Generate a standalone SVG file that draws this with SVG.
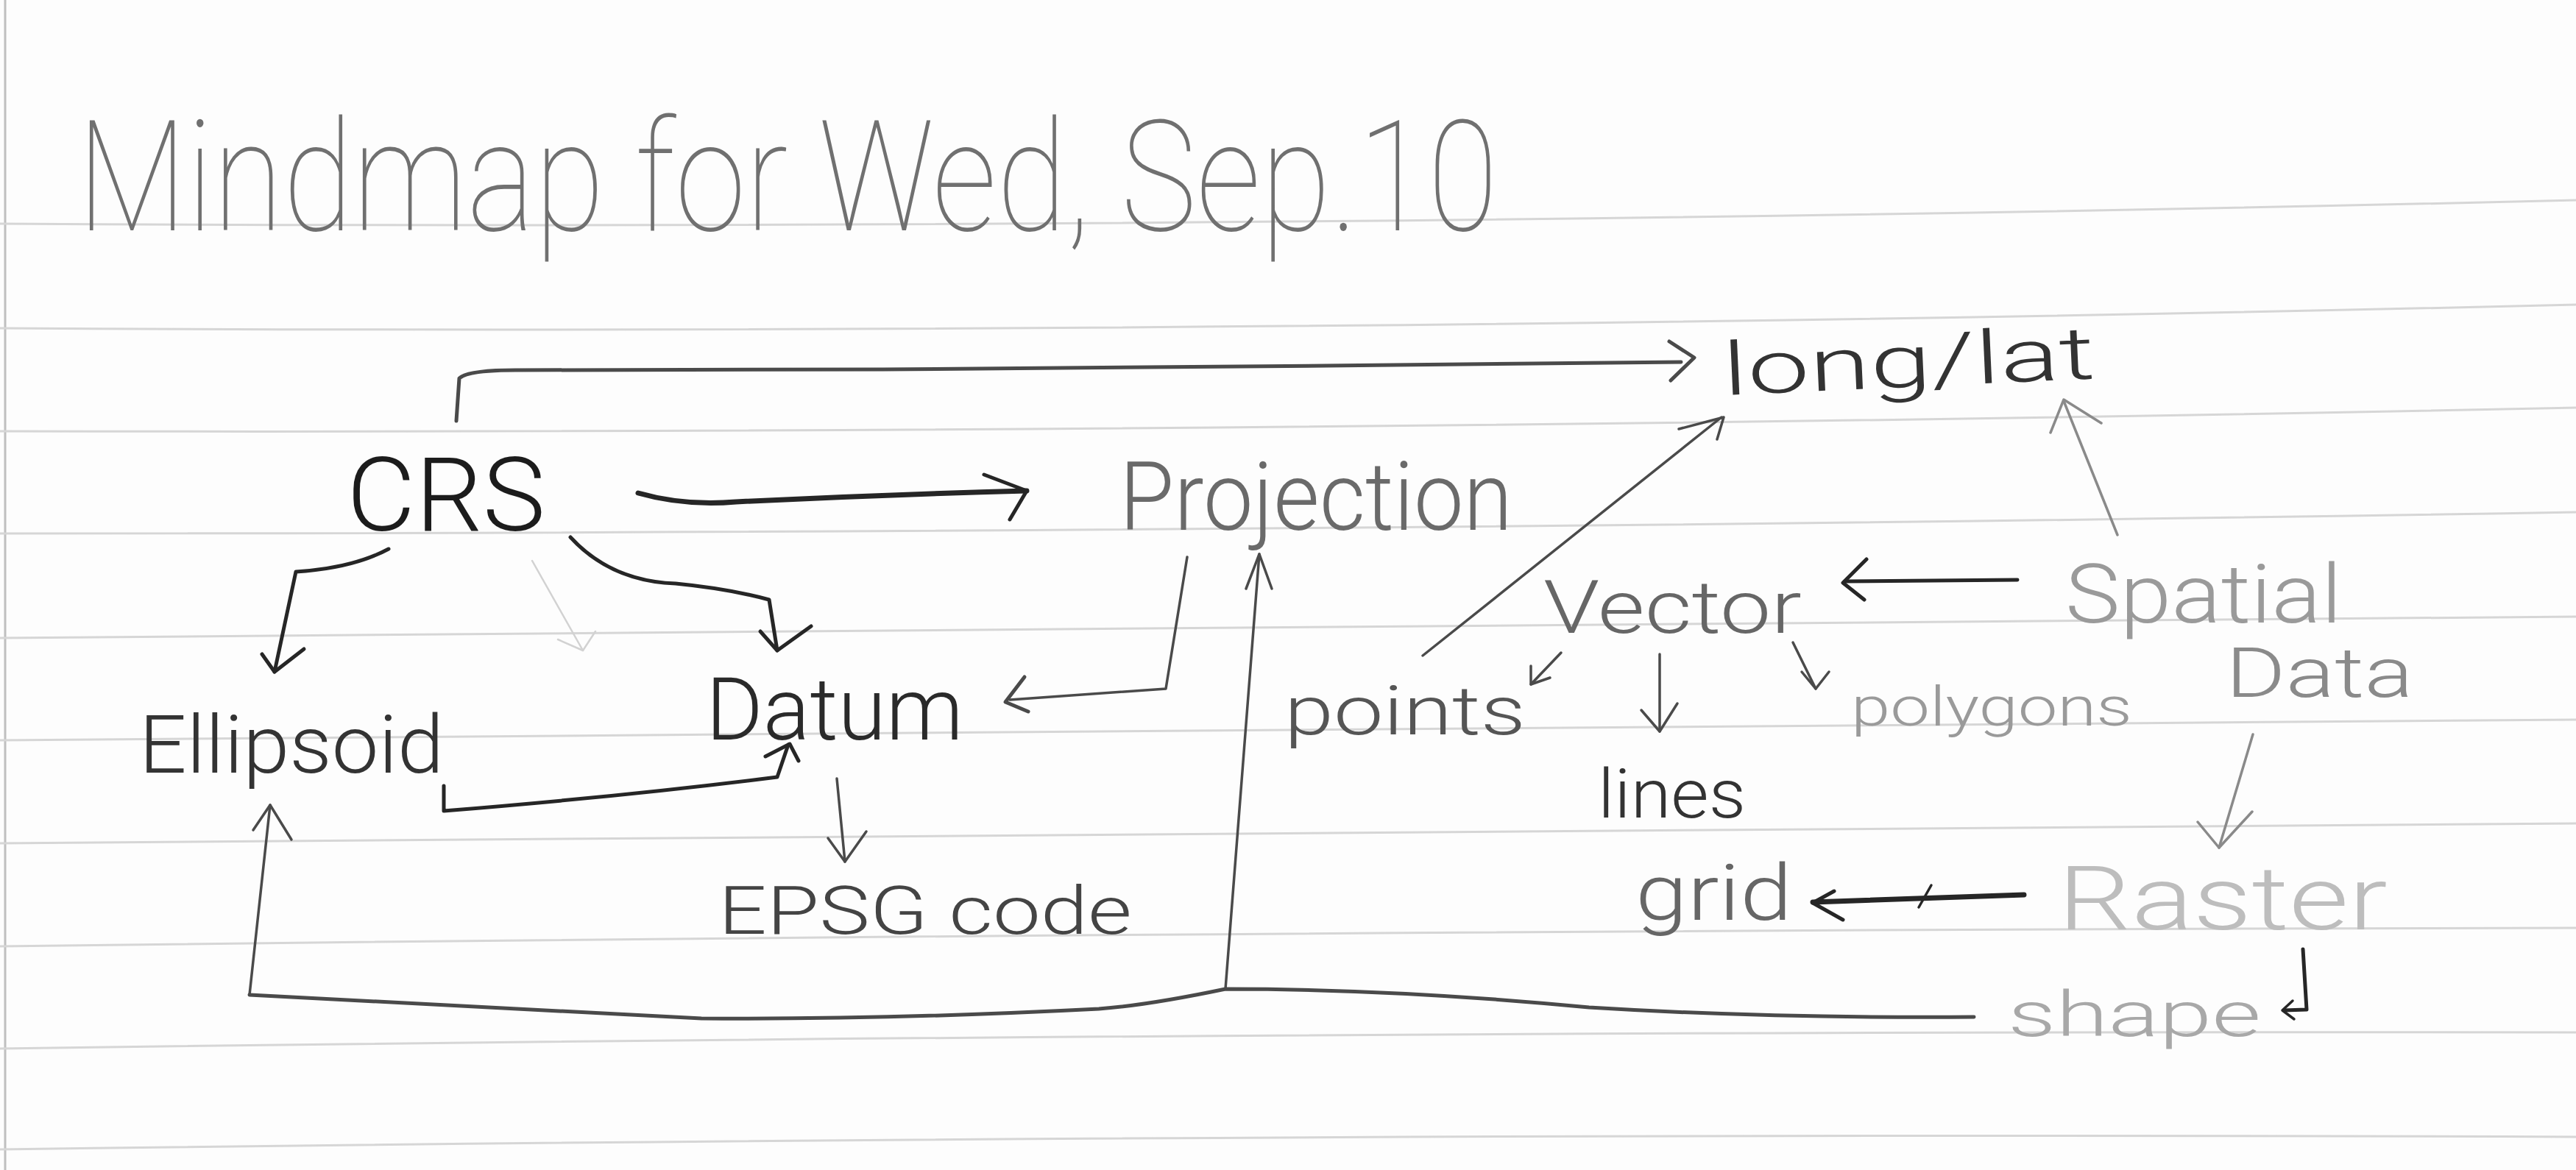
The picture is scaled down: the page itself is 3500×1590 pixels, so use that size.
<svg xmlns="http://www.w3.org/2000/svg" width="3500" height="1590" viewBox="0 0 3500 1590">
  <style>
    .rule { fill: none; stroke: #d6d6d6; stroke-width: 3; }
    .edge { fill: none; stroke: #bfbfbf; stroke-width: 3; }
    text { font-family: Roboto, "Liberation Sans", sans-serif; font-weight: 300; }
    .title { font-size: 210px; font-weight: 100; fill: #707070; }
    .ln { fill: none; stroke-linecap: round; stroke-linejoin: round; }
    .ink { stroke: #262626; }
    .lead { stroke: #4a4a4a; }
    .soft { stroke: #8a8a8a; }
    .faint { stroke: #d2d2d2; }
    .w2 { stroke-width: 2.5; }
    .w3 { stroke-width: 3.5; }
    .w5 { stroke-width: 5; }
    .w7 { stroke-width: 7; }
  </style>

  <!-- paper -->
  <rect x="0" y="0" width="3500" height="1590" fill="#fdfdfd"/>
  <g id="paper-rules">
    <path class="edge" d="M7,0 L7,1590"/>
    <path class="rule" d="M0,304 Q1775,314 3500,272"/>
    <path class="rule" d="M0,446 Q1775,456 3500,414"/>
    <path class="rule" d="M0,586 Q1775,590 3500,554"/>
    <path class="rule" d="M0,725 Q1775,725 3500,696"/>
    <path class="rule" d="M0,867 Q1775,860 3500,838"/>
    <path class="rule" d="M0,1006 Q1775,996 3500,978"/>
    <path class="rule" d="M0,1146 Q1775,1130 3500,1119"/>
    <path class="rule" d="M0,1286 Q1775,1264 3500,1261"/>
    <path class="rule" d="M0,1425 Q1775,1400 3500,1403"/>
    <path class="rule" d="M0,1562 Q1775,1538 3500,1545"/>
  </g>

  <!-- heading -->
  <g id="title">
    <text class="title" x="105" y="313" textLength="1930" lengthAdjust="spacingAndGlyphs">Mindmap for Wed, Sep.10</text>
  </g>

  <!-- connectors -->
  <g id="connectors">
    <!-- CRS up and over to long/lat -->
    <path class="ln lead w5" d="M620,572 L624,514 Q636,503 700,503 L1200,502 L1800,497 L2284,492"/>
    <path class="ln lead w5" d="M2268,464 L2302,486 L2270,517"/>
    <!-- CRS to Projection -->
    <path class="ln ink w7" d="M867,670 Q930,688 1000,682 Q1200,672 1395,667"/>
    <path class="ln ink w5" d="M1337,645 L1395,667 L1372,706"/>
    <!-- CRS to Ellipsoid -->
    <path class="ln ink w5" d="M528,746 Q480,772 402,777 L373,913"/>
    <path class="ln ink w5" d="M356,889 L373,913 L413,882"/>
    <!-- faint stroke below CRS -->
    <path class="ln faint w2" d="M723,762 L792,884"/>
    <path class="ln faint w2" d="M758,869 L792,884 L809,858"/>
    <!-- CRS to Datum -->
    <path class="ln ink w5" d="M775,730 Q830,790 918,793 Q990,800 1045,815 L1056,884"/>
    <path class="ln ink w5" d="M1033,858 L1056,884 L1102,851"/>
    <!-- Projection to Datum -->
    <path class="ln lead w3" d="M1613,757 L1584,936 L1372,951"/>
    <path class="ln lead w5" d="M1392,920 L1366,954 L1397,967"/>
    <!-- Ellipsoid to Datum -->
    <path class="ln ink w5" d="M603,1068 L603,1102 Q850,1082 1056,1056 L1071,1012"/>
    <path class="ln ink w5" d="M1040,1028 L1073,1011 L1085,1034"/>
    <!-- Datum to EPSG code -->
    <path class="ln lead w3" d="M1137,1058 L1148,1171"/>
    <path class="ln lead w3" d="M1125,1139 L1148,1171 L1177,1130"/>
    <!-- shape back to Ellipsoid and Projection -->
    <path class="ln lead w5" d="M2682,1382 Q2400,1384 2159,1369 Q1900,1344 1665,1344 Q1560,1366 1493,1371 Q1200,1386 953,1384 Q700,1372 339,1352"/>
    <path class="ln lead w3" d="M339,1352 L367,1094"/>
    <path class="ln lead w3" d="M344,1128 L367,1094 L396,1141"/>
    <path class="ln lead w3" d="M1665,1344 L1711,753"/>
    <path class="ln lead w3" d="M1693,800 L1711,753 L1728,800"/>
    <!-- points to long/lat -->
    <path class="ln lead w3" d="M1933,891 L2339,567"/>
    <path class="ln lead w3" d="M2281,583 L2342,567 L2333,597"/>
    <!-- Spatial Data to long/lat -->
    <path class="ln soft w3" d="M2877,727 L2804,545"/>
    <path class="ln soft w3" d="M2786,588 L2804,543 L2855,575"/>
    <!-- Spatial Data to Vector -->
    <path class="ln ink w5" d="M2741,788 L2507,790"/>
    <path class="ln ink w5" d="M2536,760 L2504,792 L2533,815"/>
    <!-- Vector to points / lines / polygons -->
    <path class="ln lead w3" d="M2121,887 L2080,930"/>
    <path class="ln lead w3" d="M2080,905 L2080,930 L2106,921"/>
    <path class="ln lead w3" d="M2255,889 L2255,994"/>
    <path class="ln lead w3" d="M2230,965 L2255,994 L2279,956"/>
    <path class="ln lead w3" d="M2436,873 L2467,936"/>
    <path class="ln lead w3" d="M2448,913 L2467,936 L2485,913"/>
    <!-- Spatial Data to Raster -->
    <path class="ln soft w3" d="M3061,998 L3015,1152"/>
    <path class="ln soft w3" d="M2986,1117 L3015,1152 L3060,1103"/>
    <!-- Raster to grid -->
    <path class="ln ink w7" d="M2750,1216 L2463,1226"/>
    <path class="ln ink w5" d="M2492,1211 L2463,1227 L2504,1250"/>
    <path class="ln ink w3" d="M2624,1203 L2607,1233"/>
    <!-- hook beside shape -->
    <path class="ln ink w5" d="M3129,1290 L3134,1372 L3103,1373"/>
    <path class="ln ink w3" d="M3115,1360 L3101,1373 L3117,1385"/>
  </g>

  <!-- nodes -->
  <g id="node-crs">
    <text x="471" y="721" font-size="140" font-weight="400" fill="#1c1c1c" textLength="270" lengthAdjust="spacingAndGlyphs">CRS</text>
  </g>
  <g id="node-projection">
    <text x="1521" y="720" font-size="130" fill="#6a6a6a" textLength="534" lengthAdjust="spacingAndGlyphs">Projection</text>
  </g>
  <g id="node-longlat">
    <text x="2342" y="537" font-size="100" fill="#333333" textLength="506" lengthAdjust="spacingAndGlyphs" transform="rotate(-2.6 2342 537)">long/lat</text>
  </g>
  <g id="node-ellipsoid">
    <text x="189" y="1050" font-size="110" fill="#333333" textLength="414" lengthAdjust="spacingAndGlyphs">Ellipsoid</text>
  </g>
  <g id="node-datum">
    <text x="959" y="1005" font-size="118" fill="#2a2a2a" textLength="350" lengthAdjust="spacingAndGlyphs">Datum</text>
  </g>
  <g id="node-epsg">
    <text x="976" y="1269" font-size="90" fill="#444444" textLength="562" lengthAdjust="spacingAndGlyphs">EPSG code</text>
  </g>
  <g id="node-vector">
    <text x="2097" y="860" font-size="100" fill="#666666" textLength="351" lengthAdjust="spacingAndGlyphs">Vector</text>
  </g>
  <g id="node-spatial-data">
    <text x="2806" y="846" font-size="112" fill="#9a9a9a" textLength="376" lengthAdjust="spacingAndGlyphs">Spatial</text>
    <text x="3024" y="947" font-size="95" fill="#8a8a8a" textLength="255" lengthAdjust="spacingAndGlyphs">Data</text>
  </g>
  <g id="node-points">
    <text x="1745" y="998" font-size="92" fill="#555555" textLength="328" lengthAdjust="spacingAndGlyphs">points</text>
  </g>
  <g id="node-lines">
    <text x="2171" y="1111" font-size="93" fill="#333333" textLength="201" lengthAdjust="spacingAndGlyphs">lines</text>
  </g>
  <g id="node-polygons">
    <text x="2515" y="986" font-size="74" fill="#9a9a9a" textLength="382" lengthAdjust="spacingAndGlyphs">polygons</text>
  </g>
  <g id="node-grid">
    <text x="2222" y="1250" font-size="105" fill="#666666" textLength="213" lengthAdjust="spacingAndGlyphs">grid</text>
  </g>
  <g id="node-raster">
    <text x="2796" y="1263" font-size="120" fill="#bdbdbd" textLength="448" lengthAdjust="spacingAndGlyphs">Raster</text>
  </g>
  <g id="node-shape">
    <text x="2728" y="1408" font-size="85" fill="#a8a8a8" textLength="344" lengthAdjust="spacingAndGlyphs">shape</text>
  </g>
</svg>
